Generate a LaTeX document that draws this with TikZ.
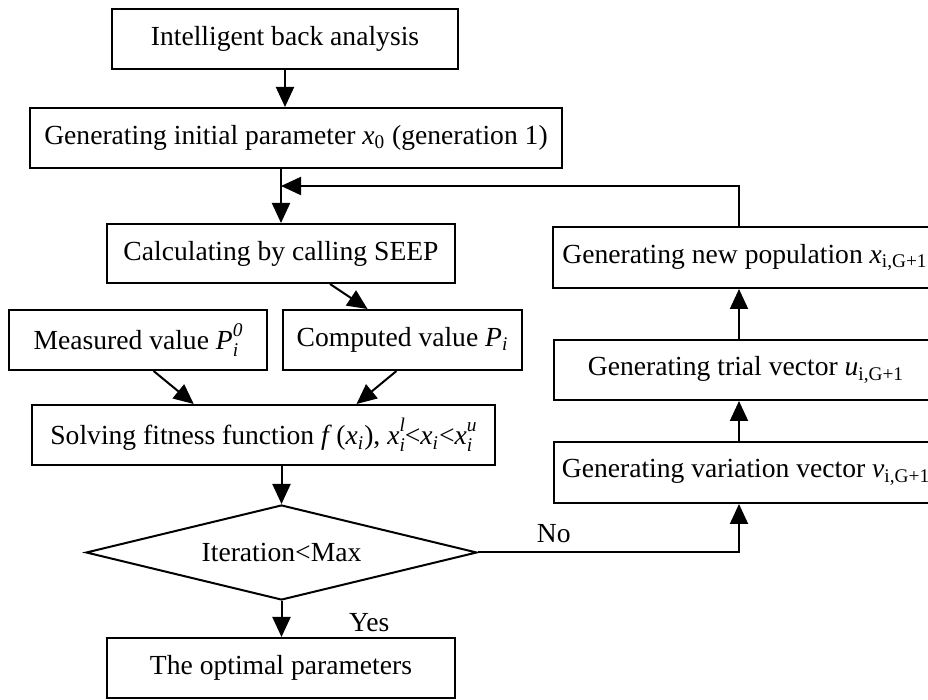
\documentclass[tikz,border=0pt]{standalone}
\usepackage{fontspec}
\setmainfont{Liberation Serif}
\usepackage{tikz}
\usetikzlibrary{arrows.meta}
\usetikzlibrary{shapes}
\usetikzlibrary{positioning}
\usetikzlibrary{calc}
\tikzstyle{arrow} = [line width=1pt, black, -{Triangle[length=10pt,width=9pt]}]
\tikzstyle{stepbox} = [draw, line width=1pt, rectangle, inner sep=0pt, minimum height=30pt]
\tikzstyle{decision} = [draw, line width=1pt, diamond, aspect=4, inner sep=0pt]
% letter with stacked sub- and superscript
\newcommand{\idxfont}{\fontsize{9.7}{10}\selectfont}
\newcommand{\xsubsup}[3]{\textit{#1}\rlap{\raisebox{-0.55ex}{\idxfont\textit{#2}}}\raisebox{1.05ex}{\idxfont\textit{#3}}}

\begin{document}
\begin{tikzpicture}[x=0.5pt, y=-0.5pt, font=\fontsize{13.8}{16}\selectfont]
  \useasboundingbox (0,0) rectangle (928,700);
  % main column
  \node[stepbox, minimum width=173pt] (start) at (285,39) {Intelligent back analysis};
  \node[stepbox, minimum width=266pt] (init) at (296,138) {Generating initial parameter \textit{x}\textsubscript{0} (generation 1)};
  \node[stepbox, minimum width=174pt, minimum height=29.5pt] (calc) at (281,253.5) {Calculating by calling SEEP};
  \node[stepbox, minimum width=129pt] (meas) at (138,340) {Measured value \xsubsup{P}{i}{0}};
  \node[stepbox, minimum width=119.5pt] (comp) at (402.5,340) {Computed value \textit{P}\textsubscript{\textit{i}}};
  \node[stepbox, minimum width=231.5pt] (solve) at (263.5,435) {Solving fitness function \textit{f}\,(\textit{x}\textsubscript{\textit{i}}), \xsubsup{x}{i}{l}<\textit{x}\textsubscript{\textit{i}}<\xsubsup{x}{i}{u}};
  \node[decision, minimum width=195.5pt, minimum height=47.5pt] (test) at (281.5,552.5) {Iteration<Max};
  \node[stepbox, minimum width=174pt] (opt) at (281,668) {The optimal parameters};
  % right column
  \node[stepbox, anchor=west, minimum width=192pt, minimum height=30.5pt] (newpop) at (552,257.5) {Generating new population \textit{x}\textsubscript{i,G+1}};
  \node[stepbox, anchor=west, minimum width=192pt] (trial) at (553,370) {Generating trial vector \textit{u}\textsubscript{i,G+1}};
  \node[stepbox, anchor=west, minimum width=192pt, minimum height=30.5pt] (vari) at (553,472.5) {Generating variation vector \textit{v}\textsubscript{i,G+1}};
  \coordinate (rcol) at (739,0);
  \coordinate (join) at (281,186);

  \draw[arrow] (start.south) -- (start.south |- init.north);
  \draw[arrow] (calc.north |- init.south) -- (calc.north);
  \draw[arrow] ($(calc.south)!0.28!(calc.south east)$) -- ($(comp.north)!0.29!(comp.north west)$);
  \draw[arrow] ($(meas.south)!0.12!(meas.south east)$) -- ($(solve.north)!0.30!(solve.north west)$);
  \draw[arrow] ($(comp.south)!0.05!(comp.south west)$) -- ($(solve.north)!0.40!(solve.north east)$);
  \draw[arrow] (test.north |- solve.south) -- (test.north);
  \draw[arrow] (test.south) -- node[right=30pt, yshift=-2pt] (yes) {Yes} (test.south |- opt.north);
  \draw[arrow] (test.east) -- node[pos=0.29, above=1pt] (no) {No} (rcol |- test.east) -- (rcol |- vari.south);
  \draw[arrow] (rcol |- vari.north) -- (rcol |- trial.south);
  \draw[arrow] (rcol |- trial.north) -- (rcol |- newpop.south);
  \draw[arrow] (rcol |- newpop.north) |- (join);
\end{tikzpicture}
\end{document}
